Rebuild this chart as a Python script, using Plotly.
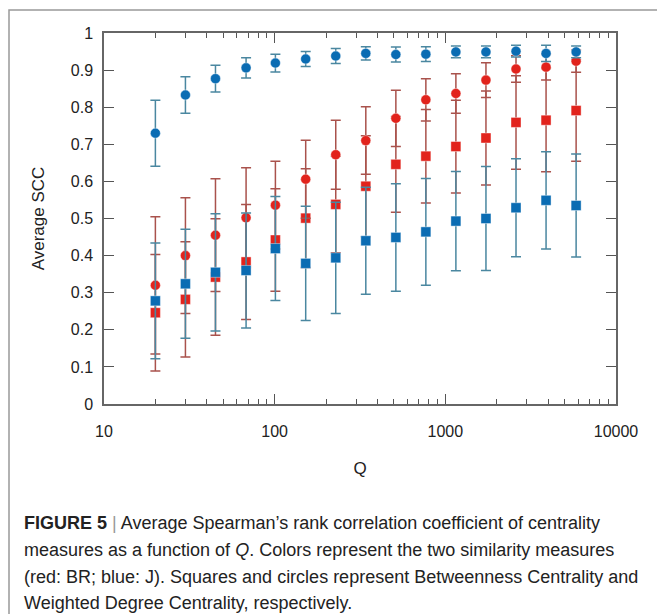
import plotly.graph_objects as go

Q = [20, 30, 45, 68, 101, 152, 228, 342, 513, 769, 1153, 1730, 2595, 3892, 5839]

# BR (red), Betweenness Centrality (squares)
br_bc = [0.246, 0.282, 0.342, 0.383, 0.442, 0.501, 0.538, 0.587, 0.646, 0.668, 0.694, 0.717, 0.759, 0.765, 0.791]
br_bc_err = [0.157, 0.155, 0.157, 0.155, 0.138, 0.133, 0.130, 0.136, 0.129, 0.126, 0.125, 0.127, 0.126, 0.139, 0.137]

# BR (red), Weighted Degree Centrality (circles)
br_wdc = [0.320, 0.400, 0.455, 0.502, 0.536, 0.606, 0.672, 0.710, 0.770, 0.820, 0.837, 0.873, 0.903, 0.908, 0.924]
br_wdc_err = [0.185, 0.156, 0.152, 0.135, 0.118, 0.105, 0.093, 0.091, 0.076, 0.057, 0.053, 0.047, 0.036, 0.035, 0.030]

# J (blue), Betweenness Centrality (squares)
j_bc = [0.278, 0.324, 0.355, 0.360, 0.419, 0.379, 0.394, 0.440, 0.449, 0.464, 0.493, 0.500, 0.529, 0.549, 0.535]
j_bc_err = [0.156, 0.147, 0.158, 0.155, 0.140, 0.154, 0.150, 0.144, 0.145, 0.144, 0.134, 0.140, 0.132, 0.131, 0.139]

# J (blue), Weighted Degree Centrality (circles)
j_wdc = [0.730, 0.833, 0.877, 0.906, 0.919, 0.930, 0.938, 0.945, 0.942, 0.943, 0.949, 0.949, 0.951, 0.945, 0.949]
j_wdc_err = [0.089, 0.049, 0.036, 0.027, 0.024, 0.020, 0.020, 0.018, 0.020, 0.020, 0.016, 0.016, 0.016, 0.022, 0.016]

x_tickvals = [10, 100, 1000, 10000]
x_ticktext = ["10", "100", "1000", "10000"]
y_tickvals = [0, 0.1, 0.2, 0.3, 0.4, 0.5, 0.6, 0.7, 0.8, 0.9, 1]
y_ticktext = ["0", "0.1", "0.2", "0.3", "0.4", "0.5", "0.6", "0.7", "0.8", "0.9", "1"]

caption_lines = [
    "<b>FIGURE 5</b> <span style='color:#999'>|</span> Average Spearman\u2019s rank correlation coefficient of centrality",
    "measures as a function of <i>Q</i>. Colors represent the two similarity measures",
    "(red: BR; blue: J). Squares and circles represent Betweenness Centrality and",
    "Weighted Degree Centrality, respectively.",
]

RED = "#e2231c"
RED_ERR = "#a9524c"
BLUE = "#0a6cb3"
BLUE_ERR = "#4a87a0"

W, H = 657, 614
L, R, T, B = 104, 616, 33, 404

fig = go.Figure()

def add(y, err, color, ecolor, symbol, size):
    fig.add_trace(go.Scatter(
        x=Q, y=y, mode="markers",
        marker=dict(symbol=symbol, size=size, color=color,
                    line=dict(width=0.8, color="rgba(255,255,255,0.5)")),
        error_y=dict(type="data", array=err, visible=True, color=ecolor,
                     thickness=1.5, width=5),
        showlegend=False,
    ))

add(br_bc, br_bc_err, RED, RED_ERR, "square", 10)
add(br_wdc, br_wdc_err, RED, RED_ERR, "circle", 10)
add(j_bc, j_bc_err, BLUE, BLUE_ERR, "square", 10)
add(j_wdc, j_wdc_err, BLUE, BLUE_ERR, "circle", 10)

axis_font = dict(family="Liberation Sans, Arial, sans-serif", size=16, color="#222")

fig.update_layout(
    width=W, height=H,
    margin=dict(l=L, r=W - R, t=T, b=H - B, pad=0),
    paper_bgcolor="white", plot_bgcolor="white",
    font=axis_font,
    xaxis=dict(
        type="log", range=[1, 4],
        tickvals=x_tickvals, ticktext=x_ticktext,
        ticks="inside", ticklen=10, tickwidth=1.3, tickcolor="#555",
        minor=dict(ticks="inside", ticklen=5, tickwidth=1, tickcolor="#555", dtick="D1", showgrid=False),
        showline=True, linecolor="#666", linewidth=1.5, mirror="ticks",
        showgrid=False, zeroline=False,
        ticklabelstandoff=12,
        title=dict(text="Q", font=dict(size=17, color="#222"), standoff=23),
    ),
    yaxis=dict(
        range=[0, 1],
        tickvals=y_tickvals, ticktext=y_ticktext,
        ticks="inside", ticklen=10, tickwidth=1.3, tickcolor="#555",
        showline=True, linecolor="#666", linewidth=1.5, mirror="ticks",
        showgrid=False, zeroline=False,
        ticklabelstandoff=6,
        title=dict(text="Average SCC", font=dict(size=17, color="#222"), standoff=22),
    ),
)

# outer frame of the figure panel
fx0 = (9 - L) / (R - L)
fx1 = (W + 5 - L) / (R - L)
fy1 = (B - 10) / (B - T)
fy0 = (B - (H + 5)) / (B - T)
fig.add_shape(type="rect", xref="paper", yref="paper", x0=fx0, x1=fx1, y0=fy0, y1=fy1,
              line=dict(color="#999", width=1.5), layer="below")

line_y = [523, 550, 577, 603]
for txt, py in zip(caption_lines, line_y):
    fig.add_annotation(
        xref="paper", yref="paper",
        x=(22 - L) / (R - L), y=(B - py) / (B - T),
        xanchor="left", yanchor="middle", showarrow=False,
        text=txt, align="left",
        font=dict(family="Liberation Sans, Arial, sans-serif", size=18, color="#222"),
    )

fig.write_html("out.html")
